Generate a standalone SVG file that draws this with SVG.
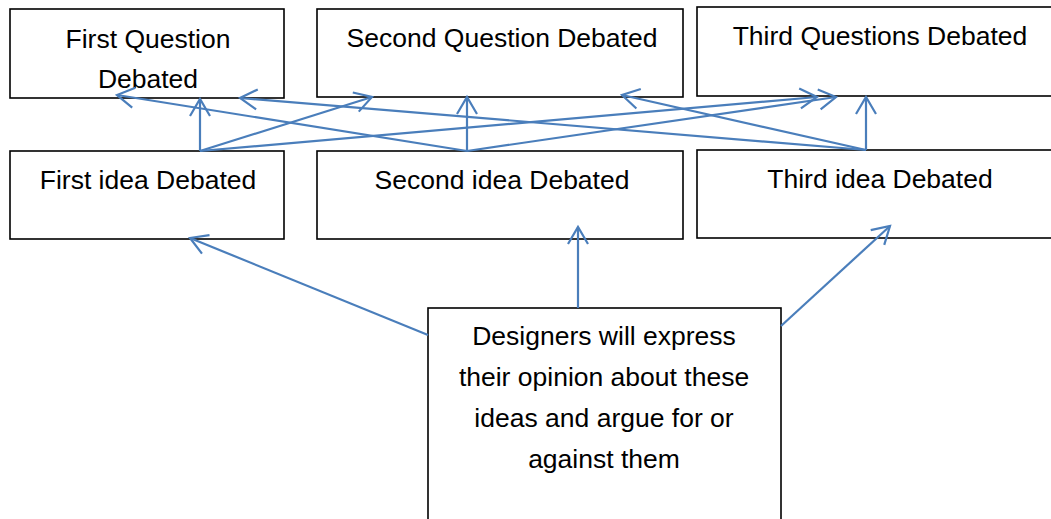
<svg xmlns="http://www.w3.org/2000/svg" width="1051" height="519" viewBox="0 0 1051 519">
<style>
.box{fill:#fff;stroke:#000;stroke-width:1.6}
.t{font-family:"Liberation Sans",Arial,sans-serif;font-size:26.5px;fill:#000;text-anchor:middle}
.c{stroke:#4a7ebb;stroke-width:2.2;fill:none}
</style>
<defs>
<marker id="ah" markerUnits="userSpaceOnUse" markerWidth="26" markerHeight="26" refX="18" refY="11" orient="auto" overflow="visible">
<path d="M1,1 L18,11 L1,21" fill="none" stroke="#4a7ebb" stroke-width="2.2"/>
</marker>
<clipPath id="cq1"><rect x="10" y="9" width="274" height="80"/></clipPath>
</defs>
<rect width="1051" height="519" fill="#fff"/>
<g id="q1"><rect class="box" x="10" y="9" width="274" height="89"/><text class="t" x="148" y="48">First Question</text><text class="t" x="148" y="88" clip-path="url(#cq1)">Debated</text></g>
<g id="q2"><rect class="box" x="317" y="9" width="366" height="88"/><text class="t" x="502" y="47">Second Question Debated</text></g>
<g id="q3"><rect class="box" x="697" y="7" width="370" height="89"/><text class="t" x="880" y="45">Third Questions Debated</text></g>
<g id="i1"><rect class="box" x="10" y="151" width="274" height="88"/><text class="t" x="148" y="189">First idea Debated</text></g>
<g id="i2"><rect class="box" x="317" y="151" width="366" height="88"/><text class="t" x="502" y="189">Second idea Debated</text></g>
<g id="i3"><rect class="box" x="697" y="150" width="370" height="88"/><text class="t" x="880" y="188">Third idea Debated</text></g>
<g id="d"><rect class="box" x="428" y="308" width="353" height="230"/>
<text class="t" x="604" y="345">Designers will express</text>
<text class="t" x="604" y="386">their opinion about these</text>
<text class="t" x="604" y="427">ideas and argue for or</text>
<text class="t" x="604" y="468">against them</text></g>
<g id="connectors" class="c">
<line x1="200" y1="151" x2="200" y2="99" marker-end="url(#ah)"/>
<line x1="200" y1="151" x2="372" y2="97" marker-end="url(#ah)"/>
<line x1="200" y1="151" x2="817" y2="97" marker-end="url(#ah)"/>
<line x1="467" y1="151" x2="467" y2="97" marker-end="url(#ah)"/>
<line x1="467" y1="151" x2="117" y2="95" marker-end="url(#ah)"/>
<line x1="467" y1="151" x2="836" y2="97" marker-end="url(#ah)"/>
<line x1="866" y1="150" x2="866" y2="97" marker-end="url(#ah)"/>
<line x1="866" y1="150" x2="622" y2="95" marker-end="url(#ah)"/>
<line x1="866" y1="150" x2="240" y2="98" marker-end="url(#ah)"/>
<line x1="428" y1="335" x2="190" y2="238" marker-end="url(#ah)"/>
<line x1="578" y1="308" x2="578" y2="227" marker-end="url(#ah)"/>
<line x1="781" y1="326" x2="890" y2="226" marker-end="url(#ah)"/>
</g>
</svg>
